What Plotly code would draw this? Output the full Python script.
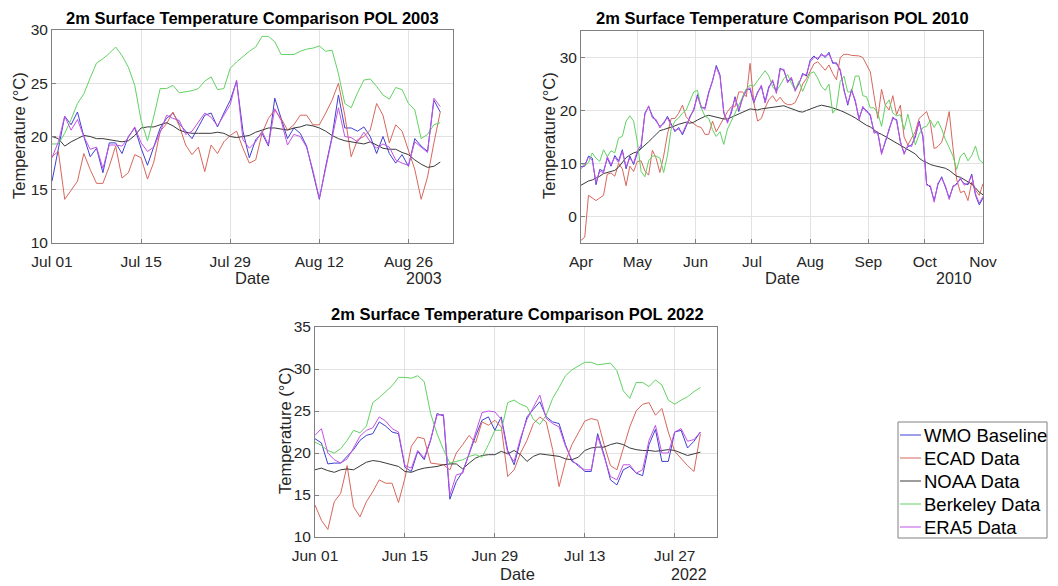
import pandas as pd
import plotly.graph_objects as go

# ---------------- 2003: 1 Jul - 31 Aug (daily) ----------------
wmo_2003 = [15.8, 18.8, 21.9, 21.1, 22.3, 20.0, 18.1, 18.9, 16.6, 19.4,
            19.4, 18.4, 20.0, 20.8, 18.9, 17.3, 19.1, 20.8, 21.7, 22.2,
            21.2, 20.5, 19.8, 20.9, 22.0, 22.2, 20.9, 22.2, 23.4, 25.2,
            20.5, 18.0, 19.7, 20.3, 19.1, 23.6, 21.7, 19.8, 20.8, 20.3,
            19.1, 16.6, 14.1, 17.2, 20.0, 23.9, 20.8, 20.8, 20.5, 20.9,
            20.0, 18.4, 20.0, 18.4, 17.5, 18.3, 17.2, 19.8, 19.1, 18.6,
            23.4, 22.3]
ecad_2003 = [18.1, 18.6, 14.1, 15.0, 15.8, 18.4, 16.9, 15.6, 15.6, 17.2,
             19.1, 16.1, 16.6, 18.3, 18.0, 16.0, 17.6, 20.5, 21.2, 22.3,
             21.0, 19.2, 18.3, 19.0, 16.7, 19.2, 18.4, 19.5, 20.1, 20.5,
             18.9, 17.5, 17.8, 20.3, 21.7, 22.5, 21.7, 20.6, 21.1, 22.0,
             22.0, 21.1, 21.1, 22.2, 23.4, 25.0, 22.0, 18.1, 19.7, 20.0,
             20.6, 23.1, 22.0, 19.4, 21.1, 20.5, 18.8, 16.9, 14.1, 16.2,
             19.4, 22.3]
noaa_2003 = [20.0, 19.8, 19.1, 19.5, 19.8, 20.1, 20.0, 19.8, 19.8, 19.7,
             19.6, 19.5, 19.6, 20.1, 20.8, 20.9, 20.9, 21.1, 21.3, 21.0,
             20.6, 20.4, 20.3, 20.3, 20.3, 20.3, 20.4, 20.3, 20.0, 19.9,
             20.0, 20.1, 20.4, 20.6, 20.8, 20.8, 20.7, 20.6, 20.8, 20.9,
             21.1, 21.0, 20.8, 20.5, 20.1, 19.8, 19.6, 19.5, 19.4, 19.3,
             19.5, 19.2, 18.9, 18.8, 18.8, 18.5, 18.3, 17.8, 17.4, 17.1,
             17.2, 17.6]
berkeley_2003 = [19.3, 19.3, 20.3, 21.6, 23.1, 24.0, 25.5, 26.9, 27.3, 27.8,
                 28.4, 27.6, 26.5, 24.8, 21.5, 19.6, 21.9, 24.5, 24.5, 24.8,
                 24.1, 24.2, 24.3, 24.5, 25.2, 25.6, 24.4, 24.5, 26.4, 27.0,
                 27.5, 28.0, 28.4, 29.4, 29.4, 28.9, 27.7, 27.7, 27.7, 28.0,
                 28.2, 28.3, 28.5, 28.0, 28.1, 25.9, 23.1, 22.7, 24.1, 25.3,
                 25.4, 24.7, 23.9, 23.5, 24.6, 24.4, 23.1, 22.5, 19.8, 20.2,
                 21.1, 21.3]
era5_2003 = [18.0, 19.5, 21.9, 20.6, 21.6, 20.0, 18.8, 19.0, 17.0, 19.2,
             19.2, 19.1, 19.9, 20.9, 19.4, 18.6, 19.0, 20.4, 22.0, 21.7,
             21.5, 20.2, 20.5, 21.3, 22.2, 21.8, 21.0, 22.0, 23.0, 25.3,
             19.7, 18.9, 19.5, 20.5, 19.2, 22.6, 21.5, 19.2, 20.2, 20.0,
             19.0, 16.8, 14.2, 17.0, 19.8, 22.7, 20.0, 19.9, 19.5, 20.4,
             19.5, 18.9, 19.3, 19.0, 17.8, 17.5, 17.3, 19.5, 19.0, 18.5,
             23.6, 22.8]

# ---------------- 2010: 1 Apr - 1 Nov (every second day) ----------------
wmo_2010 = [9.4, 9.5, 11.4, 11.0, 6.0, 8.9, 8.5, 11.0, 9.5, 11.5,
            10.5, 12.6, 9.0, 11.4, 9.8, 12.0, 13.0, 19.5, 20.7, 19.0,
            18.0, 17.0, 17.5, 18.9, 17.5, 16.0, 16.8, 15.4, 17.0, 18.9,
            20.0, 23.0, 20.5, 20.5, 23.5, 25.5, 28.5, 26.7, 19.5, 17.9,
            19.5, 22.6, 19.8, 22.5, 24.0, 24.0, 21.4, 23.5, 24.5, 21.7,
            24.5, 25.5, 23.5, 28.0, 27.5, 25.5, 26.0, 23.9, 25.0, 27.0,
            26.5, 29.5, 30.3, 29.6, 30.7, 30.0, 31.0, 28.9, 29.0, 27.5,
            24.0, 21.0, 24.0, 21.7, 18.5, 20.5, 20.0, 19.0, 16.0, 15.7,
            12.0, 14.0, 16.5, 18.5, 18.3, 14.0, 12.0, 13.2, 13.5, 15.0,
            18.0, 15.0, 6.2, 5.5, 3.0, 6.0, 7.5, 5.5, 3.5, 5.5,
            6.3, 7.0, 6.2, 6.0, 8.0, 4.0, 2.2, 3.5]
ecad_2010 = [-4.5, -3.9, 4.0, 3.5, 3.0, 3.5, 4.0, 8.0, 8.2, 7.6,
             10.0, 9.0, 5.8, 9.5, 8.5, 10.4, 10.5, 8.6, 7.8, 12.5,
             11.0, 8.3, 11.4, 15.5, 18.5, 18.5, 19.5, 21.0, 18.8, 18.0,
             17.5, 17.0, 16.8, 15.5, 15.5, 18.0, 16.0, 17.3, 18.5, 19.8,
             20.7, 20.7, 23.5, 23.5, 22.6, 28.9, 21.5, 18.0, 18.5, 20.5,
             22.0, 22.8, 21.7, 22.5, 21.5, 21.1, 21.1, 21.5, 23.0, 25.0,
             26.0, 27.5, 28.8, 29.2, 28.3, 27.6, 28.6, 27.0, 25.8, 30.0,
             30.6, 30.6, 30.4, 30.4, 30.3, 30.0, 28.5, 27.3, 22.8, 18.5,
             24.0, 21.0, 20.1, 22.8, 19.2, 21.0, 15.0, 13.5, 14.8, 16.0,
             18.5, 19.2, 19.8, 17.6, 12.8, 13.2, 14.0, 16.5, 19.8, 13.0,
             7.0, 4.5, 4.8, 3.0, 6.5, 5.0, 4.0, 6.2]
noaa_2010 = [5.9, 6.3, 6.7, 6.9, 7.2, 7.6, 8.1, 8.3, 8.5, 8.7,
             9.3, 10.2, 11.1, 11.6, 12.0, 12.2, 12.8, 13.5, 14.1, 14.8,
             15.6, 16.2, 16.4, 16.6, 16.9, 17.1, 17.4, 17.6, 17.8, 17.6,
             17.8, 18.2, 18.6, 18.9, 19.1, 18.9, 18.7, 18.5, 18.4, 18.4,
             18.7, 19.0, 19.3, 19.6, 20.0, 20.3, 20.2, 20.1, 20.3, 20.4,
             20.6, 20.6, 20.7, 20.9, 20.9, 20.6, 20.4, 20.1, 19.8, 19.7,
             20.0, 20.3, 20.5, 20.8, 21.0, 20.9, 20.7, 20.5, 20.3, 20.0,
             19.7, 19.4, 19.0, 18.6, 18.1, 17.6, 17.2, 16.9, 16.4, 15.8,
             15.5, 15.1, 14.7, 14.3, 13.9, 13.4, 13.0, 12.6, 12.3, 11.8,
             11.0, 10.5, 10.2, 9.8, 9.6, 9.4, 9.3, 9.1, 8.7, 8.2,
             7.6, 7.4, 7.0, 6.6, 6.1, 5.4, 4.6, 4.1]
berkeley_2010 = [10.0, 9.6, 10.2, 12.0, 11.0, 10.4, 12.6, 11.3, 12.4, 12.0,
                 14.8, 15.1, 18.0, 19.0, 18.0, 14.0, 8.5, 7.5, 10.5, 11.4,
                 11.4, 11.0, 8.3, 11.5, 16.5, 18.0, 18.6, 19.5, 20.1, 22.0,
                 23.5, 23.8, 20.5, 18.9, 18.5, 16.4, 15.1, 16.0, 13.6, 16.5,
                 18.0, 19.5, 21.0, 22.6, 24.0, 24.8, 24.6, 25.6, 26.5, 27.5,
                 26.5, 24.5, 23.6, 24.8, 26.0, 26.8, 25.1, 23.9, 25.5, 23.6,
                 25.5, 27.0, 27.3, 26.1, 24.5, 23.8, 25.0, 19.5, 20.5, 25.5,
                 26.5, 23.5, 23.5, 26.5, 26.5, 22.8, 22.6, 20.5, 20.5, 19.5,
                 17.0, 21.0, 22.0, 19.5, 19.0, 19.2, 16.4, 19.3, 16.4, 13.5,
                 15.5, 16.8, 17.0, 18.2, 16.8, 18.0, 16.5, 14.5, 13.0, 11.4,
                 8.9, 11.4, 12.0, 10.5, 11.5, 13.3, 10.7, 10.1]
era5_2010 = [9.0, 9.8, 11.2, 10.6, 6.4, 8.6, 8.2, 11.3, 9.8, 11.2,
             10.2, 12.3, 9.4, 11.0, 10.1, 12.4, 13.5, 19.2, 20.9, 18.6,
             18.3, 16.7, 17.8, 18.6, 17.2, 16.3, 16.5, 15.7, 17.3, 18.6,
             20.3, 22.6, 20.8, 20.2, 23.2, 25.8, 28.2, 26.4, 19.8, 17.6,
             19.8, 22.3, 20.1, 22.2, 23.7, 24.3, 21.7, 23.2, 24.8, 21.4,
             24.2, 25.8, 23.2, 27.7, 27.8, 25.2, 26.3, 23.6, 25.3, 26.7,
             26.8, 29.2, 30.0, 29.9, 30.4, 30.3, 30.6, 29.2, 28.7, 27.8,
             23.7, 21.3, 23.7, 22.0, 18.2, 20.8, 19.7, 19.3, 15.7, 16.0,
             11.7, 14.3, 16.2, 18.8, 18.0, 14.3, 11.7, 13.5, 13.2, 15.3,
             17.7, 15.3, 5.9, 5.8, 2.7, 6.3, 7.2, 5.8, 3.2, 5.8,
             6.0, 7.3, 5.9, 6.3, 7.7, 4.3, 2.5, 3.8]

# ---------------- 2022: 1 Jun - 31 Jul (daily) ----------------
wmo_2022 = [21.7, 21.2, 18.7, 18.8, 18.8, 19.6, 20.4, 21.5, 22.1, 22.3,
            23.7, 23.2, 22.5, 22.3, 18.3, 17.8, 20.2, 19.2, 21.5, 24.7,
            24.4, 14.5, 16.6, 17.8, 20.0, 22.0, 23.9, 24.3, 22.7, 24.3,
            20.3, 18.6, 21.5, 24.3, 25.2, 26.1, 24.3, 23.7, 23.5, 21.0,
            19.0, 18.6, 17.8, 17.8, 22.3, 19.8, 16.8, 16.2, 18.0, 18.4,
            17.6, 17.3, 21.0, 22.8, 19.0, 19.0, 22.5, 22.7, 20.6, 21.4,
            22.5]
ecad_2022 = [13.8, 12.0, 10.9, 14.2, 15.2, 18.5, 13.6, 12.4, 14.2, 15.4,
             16.8, 16.4, 16.4, 14.1, 17.0, 20.8, 21.9, 21.7, 18.8, 18.7,
             18.6, 18.0, 20.0, 21.0, 22.1, 21.2, 23.7, 23.3, 23.9, 23.1,
             17.2, 18.0, 20.0, 21.5, 23.5, 24.3, 23.7, 20.4, 16.0, 19.0,
             21.0, 22.4, 23.8, 24.1, 23.9, 21.0, 18.5, 18.0, 20.5, 23.1,
             25.0, 25.8, 26.0, 24.5, 25.3, 22.5, 20.2, 19.3, 18.5, 17.8,
             22.3]
noaa_2022 = [18.0, 18.2, 17.9, 17.7, 18.0, 18.1, 18.0, 18.4, 18.9, 19.1,
             19.0, 18.8, 18.6, 18.4, 17.8, 17.7, 18.0, 18.2, 18.3, 18.4,
             18.6, 18.7, 18.7, 18.1, 18.8, 19.4, 19.7, 19.8, 19.8, 20.2,
             19.9, 20.3, 19.8, 19.0, 19.6, 19.9, 19.8, 19.7, 19.6, 19.3,
             19.2, 19.5, 20.3, 20.6, 20.7, 20.7, 21.0, 21.2, 21.0, 20.6,
             20.4, 20.3, 20.3, 20.2, 20.3, 20.4, 20.3, 20.0, 19.7, 19.9,
             20.1]
berkeley_2022 = [21.3, 20.9, 20.3, 20.0, 20.5, 21.5, 22.7, 22.4, 23.2, 26.0,
                 26.6, 27.3, 28.0, 29.0, 29.0, 28.9, 29.2, 28.5, 24.7, 22.3,
                 20.4, 18.8, 19.0, 19.2, 19.6, 19.8, 19.5, 21.0, 22.7, 22.7,
                 26.0, 26.3, 25.8, 25.5, 24.0, 23.4, 24.5, 26.5, 27.8, 29.2,
                 29.9, 30.4, 30.8, 30.8, 30.5, 30.6, 30.7, 29.8, 27.4, 26.5,
                 28.4, 28.4, 27.9, 28.7, 28.1, 26.3, 25.8, 26.3, 26.7, 27.3,
                 27.8]
era5_2022 = [22.1, 22.9, 20.0, 19.2, 18.8, 19.3, 20.6, 22.0, 22.7, 23.0,
             24.3, 23.8, 22.9, 22.5, 18.5, 18.2, 20.3, 19.4, 21.6, 24.5,
             24.6, 15.0, 17.4, 17.6, 20.0, 22.5, 24.8, 25.0, 24.9, 24.0,
             20.0, 19.0, 21.8, 24.0, 25.5, 26.9, 24.1, 23.5, 23.1, 20.8,
             19.2, 18.4, 18.0, 18.0, 22.0, 19.6, 17.2, 16.8, 18.6, 18.6,
             17.6, 18.0, 21.5, 23.3, 20.0, 20.0, 22.5, 22.9, 21.4, 21.6,
             22.5]

series_names = ["WMO Baseline", "ECAD Data", "NOAA Data", "Berkeley Data", "ERA5 Data"]
series_colors = ["#3f3fd2", "#d8675c", "#3a3a3a", "#62d262", "#c352e6"]

W, H = 1058, 586


def px(x):
    return x / W


def py(y):
    return 1 - y / H


panels = [
    dict(
        data=[wmo_2003, ecad_2003, noaa_2003, berkeley_2003, era5_2003],
        start="2003-07-01", freq="D",
        xdom=[px(52), px(453)], ydom=[py(243), py(30)],
        xrange=["2003-07-01", "2003-09-02"],
        xticks=["2003-07-01", "2003-07-15", "2003-07-29", "2003-08-12", "2003-08-26"],
        xtext=["Jul 01", "Jul 15", "Jul 29", "Aug 12", "Aug 26"],
        yrange=[10, 30], yticks=[10, 15, 20, 25, 30],
        title="2m Surface Temperature Comparison POL 2003",
        title_xy=(252.5, 18), ylab_xy=(19, 136), date_xy=(252, 278),
        year="2003", year_xy=(424, 278),
    ),
    dict(
        data=[wmo_2010, ecad_2010, noaa_2010, berkeley_2010, era5_2010],
        start="2010-04-01", freq="2D",
        xdom=[px(581), px(983)], ydom=[py(243), py(31)],
        xrange=["2010-04-01", "2010-11-01"],
        xticks=["2010-04-01", "2010-05-01", "2010-06-01", "2010-07-01",
                "2010-08-01", "2010-09-01", "2010-10-01", "2010-11-01"],
        xtext=["Apr", "May", "Jun", "Jul", "Aug", "Sep", "Oct", "Nov"],
        yrange=[-5, 35], yticks=[0, 10, 20, 30],
        title="2m Surface Temperature Comparison POL 2010",
        title_xy=(782, 18), ylab_xy=(549, 136), date_xy=(782, 278),
        year="2010", year_xy=(954, 278),
    ),
    dict(
        data=[wmo_2022, ecad_2022, noaa_2022, berkeley_2022, era5_2022],
        start="2022-06-01", freq="D",
        xdom=[px(315), px(717)], ydom=[py(537), py(327)],
        xrange=["2022-06-01", "2022-08-02 14:00"],
        xticks=["2022-06-01", "2022-06-15", "2022-06-29", "2022-07-13", "2022-07-27"],
        xtext=["Jun 01", "Jun 15", "Jun 29", "Jul 13", "Jul 27"],
        yrange=[10, 35], yticks=[10, 15, 20, 25, 30, 35],
        title="2m Surface Temperature Comparison POL 2022",
        title_xy=(517.5, 314), ylab_xy=(285, 431), date_xy=(517, 574),
        year="2022", year_xy=(689, 574),
    ),
]

FONT = "Liberation Sans, Arial, sans-serif"
TXT = "#262626"
AXIS = "#808080"
GRID = "#e2e2e2"

fig = go.Figure()
annotations = []
shapes = []
layout_axes = {}

for i, p in enumerate(panels, start=1):
    sfx = "" if i == 1 else str(i)
    xname, yname = "x" + sfx, "y" + sfx
    for vals, name, color in zip(p["data"], series_names, series_colors):
        dates = pd.date_range(p["start"], periods=len(vals), freq=p["freq"])
        fig.add_trace(go.Scatter(
            x=dates, y=vals, mode="lines", name=name,
            line=dict(color=color, width=1),
            xaxis=xname, yaxis=yname, showlegend=False,
        ))
    common = dict(showline=True, linecolor=AXIS, linewidth=1, mirror=True,
                  showgrid=True, gridcolor=GRID, gridwidth=1, zeroline=False,
                  ticks="inside", ticklen=4, tickcolor=AXIS, automargin=False,
                  tickfont=dict(family=FONT, size=15.5, color=TXT))
    layout_axes["xaxis" + sfx] = dict(
        common, domain=p["xdom"], anchor=yname, type="date",
        range=p["xrange"], tickmode="array",
        tickvals=p["xticks"], ticktext=p["xtext"], ticklabelstandoff=4)
    layout_axes["yaxis" + sfx] = dict(
        common, domain=p["ydom"], anchor=xname,
        range=p["yrange"], tickmode="array", tickvals=p["yticks"],
        ticklabelstandoff=0)

    tx, ty = p["title_xy"]
    annotations.append(dict(text="<b>" + p["title"] + "</b>", x=px(tx), y=py(ty),
                            xref="paper", yref="paper", showarrow=False,
                            xanchor="center", yanchor="middle",
                            font=dict(family=FONT, size=16.5, color="#000000")))
    lx, ly = p["ylab_xy"]
    annotations.append(dict(text="Temperature (°C)", x=px(lx), y=py(ly),
                            xref="paper", yref="paper", showarrow=False,
                            textangle=-90, xanchor="center", yanchor="middle",
                            font=dict(family=FONT, size=16.5, color=TXT)))
    dx, dy = p["date_xy"]
    annotations.append(dict(text="Date", x=px(dx), y=py(dy),
                            xref="paper", yref="paper", showarrow=False,
                            xanchor="center", yanchor="middle",
                            font=dict(family=FONT, size=16.5, color=TXT)))
    yx, yy = p["year_xy"]
    annotations.append(dict(text=p["year"], x=px(yx), y=py(yy),
                            xref="paper", yref="paper", showarrow=False,
                            xanchor="center", yanchor="middle",
                            font=dict(family=FONT, size=16, color=TXT)))

# legend box with short line samples, one row per series
LEG_L, LEG_R, LEG_T, LEG_B = 898, 1047, 422, 538
shapes.append(dict(type="rect", xref="paper", yref="paper",
                   x0=px(LEG_L), x1=px(LEG_R), y0=py(LEG_B), y1=py(LEG_T),
                   line=dict(color=AXIS, width=1), fillcolor="white", layer="above"))
for k, (name, color) in enumerate(zip(series_names, series_colors)):
    ry = 435 + 23 * k
    shapes.append(dict(type="line", xref="paper", yref="paper",
                       x0=px(900), x1=px(921), y0=py(ry), y1=py(ry),
                       line=dict(color=color, width=1), layer="above"))
    annotations.append(dict(text=name, x=px(922), y=py(ry),
                            xref="paper", yref="paper", showarrow=False,
                            xanchor="left", yanchor="middle",
                            font=dict(family=FONT, size=18.5, color="#000000")))

fig.update_layout(
    template="none",
    width=W, height=H, autosize=False,
    margin=dict(l=0, r=0, t=0, b=0, pad=0),
    paper_bgcolor="white", plot_bgcolor="white",
    showlegend=False,
    annotations=annotations,
    shapes=shapes,
    **layout_axes,
)

fig.write_html("out.html")
